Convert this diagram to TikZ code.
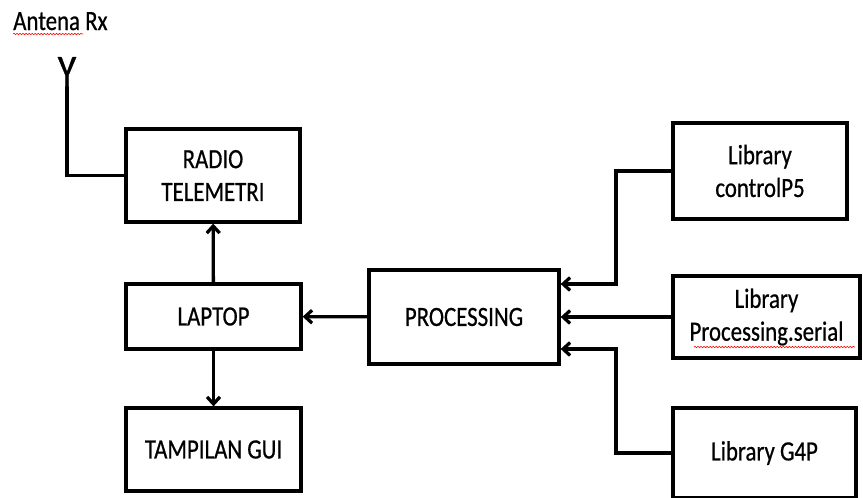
\documentclass[tikz,border=0pt]{standalone}
\usepackage{fontspec}
\setmainfont{Carlito}[FakeStretch=0.82, FakeBold=0.6]
\usetikzlibrary{positioning, arrows.meta, calc, decorations.pathmorphing}

\begin{document}
\begin{tikzpicture}[
  x=0.03cm, y=-0.03cm,
  % Styles
  blok/.style={
    rectangle, draw=black, line width=2.8pt,
    font=\fontsize{23.8}{28}\selectfont,
    text=black, align=center, inner sep=0pt
  },
  panah/.style={
    -{Straight Barb[length=6pt, width=11pt]}, line width=2.8pt
  },
  kabel/.style={line width=2.8pt},
  salah/.style={
    red, line width=0.5pt,
    decorate, decoration={snake, amplitude=0.6pt, segment length=2.6pt}
  },
]

\useasboundingbox (0,0) rectangle (863,497);
\clip (0,0) rectangle (863,497);

% === LEFT COLUMN ===
\node[blok, minimum width=5.22cm, minimum height=2.79cm] (radio) at (213,175.5) {RADIO\\TELEMETRI};
\node[blok, minimum width=5.25cm, minimum height=1.95cm] (laptop) at (213.5,316.5) {LAPTOP};
\node[blok, minimum width=5.25cm, minimum height=2.49cm] (gui) at (213.5,449.5) {TAMPILAN GUI};

% === PROCESSING ===
\node[blok, minimum width=5.7cm, minimum height=2.82cm] (proc) at (464,317) {PROCESSING};

% === LIBRARIES ===
\node[blok, minimum width=5.22cm, minimum height=2.88cm] (p5) at (760,171) {Library\\controlP5};
\node[blok, minimum width=5.61cm, minimum height=2.46cm] (serial) at (766.5,317) {Library\\Processing.serial};
\node[blok, minimum width=5.49cm, minimum height=2.7cm] (g4p) at (764.5,453) {Library G4P};

% === Antenna ===
\node[inner sep=0pt, anchor=base west, font=\fontsize{23.8}{28}\selectfont] (label) at (13,30) {Antena Rx};
\node[inner sep=0pt, anchor=south, font=\fontsize{39.6}{40}\selectfont] (antena) at (67,87) {Y};
\draw[kabel] (antena.south) |- (radio.west);

% === Arrows ===
\draw[panah] (laptop) -- (radio);
\draw[panah] (laptop) -- (gui);
\draw[panah] (proc) -- (laptop);

\coordinate (bus) at (616,0);
\draw[panah] (p5.west) -- (p5.west -| bus) |- ([yshift=0.99cm]proc.east);
\draw[panah] (serial.west) -- (serial.west -| proc.east);
\draw[panah] (g4p.west) -- (g4p.west -| bus) |- ([yshift=-0.96cm]proc.east);

% === spelling marks ===
\draw[salah] (13,34) -- (83,34);
\draw[salah] (694,347) -- (855,347);

\end{tikzpicture}
\end{document}
